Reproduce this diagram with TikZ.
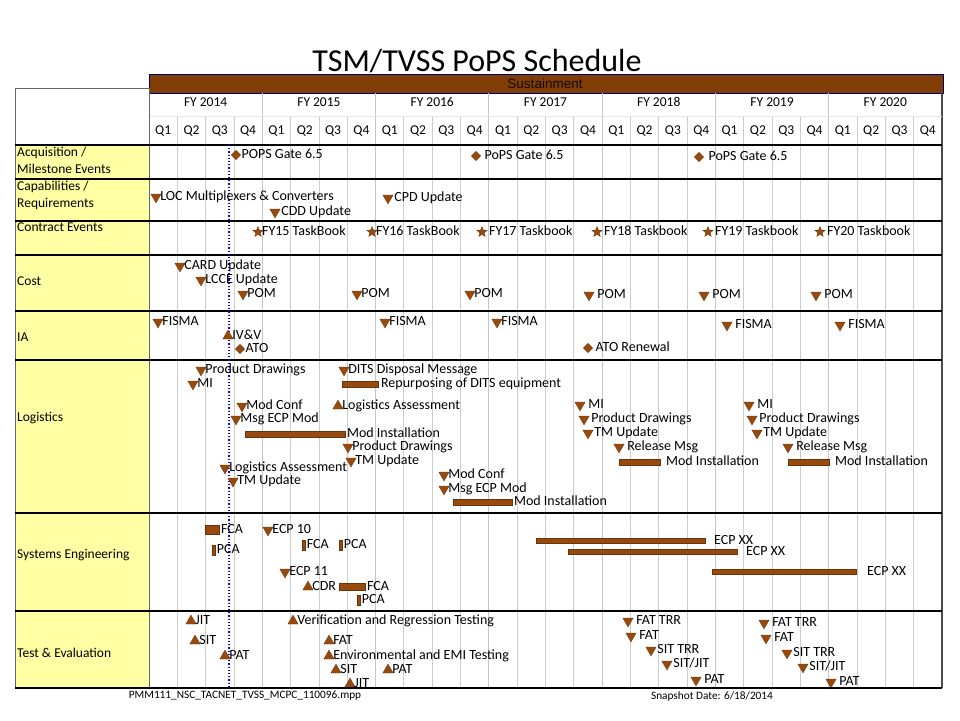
\documentclass[tikz,border=0pt]{standalone}
\usepackage{fontspec}
\setmainfont{Carlito}
\newfontfamily\arialfont{Liberation Sans}
\usetikzlibrary{shapes.geometric, positioning}

\definecolor{mkbrown}{RGB}{150,74,14}
\definecolor{barbrown}{RGB}{128,62,6}
\definecolor{rowyellow}{RGB}{255,255,163}
\definecolor{gridgray}{RGB}{205,205,205}

\begin{document}
\begin{tikzpicture}[
    x=1pt, y=-1pt,
    font=\fontsize{14}{16}\selectfont,
    lbl/.style={anchor=west, inner sep=0.5pt, text height=8.5pt, text depth=2pt},
    hdr/.style={inner sep=0pt, font=\fontsize{13.5}{15}\selectfont},
    rowlbl/.style={anchor=west, align=left, inner sep=0pt,
                   font=\fontsize{13.5}{16.5}\selectfont},
    dnmk/.style={regular polygon, regular polygon sides=3,
                 shape border rotate=180, fill=mkbrown,
                 draw=mkbrown!75!black, line width=0.3pt,
                 minimum size=12pt, inner sep=0pt},
    upmk/.style={dnmk, shape border rotate=0},
    diamk/.style={diamond, fill=mkbrown, draw=mkbrown!75!black,
                  line width=0.3pt, minimum size=9.5pt, inner sep=0pt},
    starmk/.style={star, star points=5, star point ratio=2.3, fill=mkbrown,
                   draw=mkbrown!75!black, line width=0.3pt,
                   minimum size=11pt, inner sep=0pt},
    barmk/.style={anchor=west, fill=mkbrown, draw=mkbrown!70!black,
                  line width=0.4pt, inner sep=0pt},
    tickmk/.style={fill=mkbrown, draw=mkbrown!70!black, line width=0.3pt,
                   minimum width=3pt, minimum height=10pt, inner sep=0pt},
    rowline/.style={line width=1.6pt, black},
  ]
  \useasboundingbox (0,0) rectangle (960,720);

  %% Title and sustainment bar
  \node[font=\fontsize{32}{35}\selectfont, anchor=base, inner sep=0pt,
        text depth=0pt] (title) at (477,71) {TSM/TVSS PoPS Schedule};
  \node[anchor=north west, fill=barbrown, draw=blue!45!black, line width=0.6pt,
        minimum width=794pt, minimum height=19pt, inner sep=0pt] (sust) at (149,74) {};
  \node[font=\arialfont\fontsize{13.5}{15}\selectfont, text=black!85!barbrown,
        inner sep=0pt, anchor=base] (susttxt) at (545,88) {Sustainment};

  %% Label column and table frame
  \fill[rowyellow] (15,145) rectangle (149,688);
  \draw[gray!80!black, line width=1pt] (15,688) -- (15,88) -- (149,88);
  \draw[gray!60!black, line width=1.4pt] (942,93) -- (942,688);

  %% Grid: quarters and fiscal years
  \foreach \q in {1,...,27}
    \draw[gridgray, line width=0.8pt] ({149+28.32*\q},116) -- ({149+28.32*\q},688);
  \foreach \k in {1,...,6}
    \draw[gray!45, line width=1.2pt] ({149+113.28*\k},93) -- ({149+113.28*\k},688);
  \draw[gray!20, line width=0.6pt] (149,116) -- (942,116);
  \draw[gray!80!black, line width=0.8pt] (149,88) -- (149,688);

  \foreach \yr [count=\k from 0] in {2014,2015,2016,2017,2018,2019,2020}
    \node[hdr] (fy\yr) at ({149+113.28*\k+56.64},102) {FY \yr};
  \foreach \q [evaluate=\q as \qn using {int(mod(\q,4)+1)}] in {0,...,27}
    \node[hdr] (q\q) at ({149+28.32*(\q+0.5)},131) {Q\qn};

  %% Row separators
  \draw[black, line width=1.1pt] (15,145) -- (942,145);
  \foreach \ry in {179,221,255,311,360,513,611,688}
    \draw[rowline] (15,\ry) -- (942,\ry);

  %% Row labels
  \node[rowlbl, anchor=north west] (racq) at (17,147) {Acquisition /\\Milestone Events};
  \node[rowlbl, anchor=north west] (rcap) at (17,181) {Capabilities /\\Requirements};
  \node[rowlbl, anchor=north west] (rcon) at (17,223) {Contract Events};
  \node[rowlbl] (rcost) at (17,281) {Cost};
  \node[rowlbl] (ria) at (17,337) {IA};
  \node[rowlbl] (rlog) at (17,418) {Logistics};
  \node[rowlbl] (rse) at (17,555) {Systems Engineering};
  \node[rowlbl] (rte) at (17,653) {Test \& Evaluation};

  %% Status date
  \draw[blue, dotted, line width=1.2pt] (229,145) -- (229,688);

  \begin{scope}
    \clip (149,145) rectangle (942,686);
    %% Down-pointing milestones
    \foreach \x/\y/\g/\t [count=\i] in {
        156/197/0pt/LOC Multiplexers \& Converters, 275/212/2pt/CDD Update,
        388/198/2pt/CPD Update,
        180/266/0pt/CARD Update, 201/280/0pt/LCCE Update, 243/294/0pt/POM,
        357/294/0pt/POM, 470/294/0pt/POM, 589/295/4pt/POM, 704/295/4pt/POM,
        816/295/4pt/POM,
        158/322/0pt/FISMA, 385/322/0pt/FISMA, 497/322/0pt/FISMA,
        727/325/4pt/FISMA, 840/325/4pt/FISMA,
        201/370/0pt/Product Drawings, 193/384/0pt/MI,
        344/370/0pt/DITS Disposal Message, 242/406/0pt/Mod Conf,
        236/419/0pt/Msg ECP Mod, 348/447/0pt/Product Drawings,
        351/461/0pt/TM Update, 225/468/0pt/Logistics Assessment,
        233/481/0pt/TM Update, 444/475/0pt/Mod Conf, 444/489/0pt/Msg ECP Mod,
        580/405/4pt/MI, 584/419/3pt/Product Drawings, 588/433/2pt/TM Update,
        619/447/4pt/Release Msg,
        749/405/4pt/MI, 752/419/3pt/Product Drawings, 757/433/2pt/TM Update,
        788/447/4pt/Release Msg,
        268/530/0pt/ECP 10, 285/572/0pt/ECP 11,
        628/621/4pt/FAT TRR, 631/636/4pt/FAT, 651/650/2pt/SIT TRR,
        667/664/2pt/{SIT/JIT}, 696/680/4pt/PAT,
        764/623/4pt/FAT TRR, 766/638/4pt/FAT, 787/653/2pt/SIT TRR,
        803/667/2pt/{SIT/JIT}, 831/682/4pt/PAT}
    {
      \node[dnmk] (dn\i) at (\x,\y) {};
      \node[lbl, right=\g of dn\i] (dnl\i) {\t};
    }
    %% Up-pointing milestones
    \foreach \x/\y/\g/\t [count=\i] in {
        228/336/0pt/IV\&V, 338/406/0pt/Logistics Assessment, 308/587/0pt/CDR,
        191/621/0pt/JIT, 195/641/0pt/SIT, 225/656/0pt/PAT,
        293/621/0pt/Verification and Regression Testing, 329/641/0pt/FAT,
        329/656/0pt/Environmental and EMI Testing, 336/670/0pt/SIT,
        388/670/0pt/PAT, 350/684/0pt/JIT}
    {
      \node[upmk] (up\i) at (\x,\y) {};
      \node[lbl, right=\g of up\i] (upl\i) {\t};
    }
    %% Gates and approvals
    \foreach \x/\y/\g/\t [count=\i] in {
        236/155/0pt/POPS Gate 6.5, 476/156/3pt/PoPS Gate 6.5,
        699/157/4pt/PoPS Gate 6.5, 240/349/0pt/ATO, 588/348/2pt/ATO Renewal}
    {
      \node[diamk] (dia\i) at (\x,\y) {};
      \node[lbl, right=\g of dia\i] (dial\i) {\t};
    }
    %% Task books
    \foreach \x/\y/\g/\t [count=\i] in {
        258/232/0pt/FY15 TaskBook, 372/232/0pt/FY16 TaskBook,
        482/232/3pt/FY17 Taskbook, 597/232/3pt/FY18 Taskbook,
        708/232/3pt/FY19 Taskbook, 820/232/3pt/FY20 Taskbook}
    {
      \node[starmk] (st\i) at (\x,\y) {};
      \node[lbl, right=\g of st\i] (stl\i) {\t};
    }
    %% Durations
    \foreach \xa/\w/\y/\h/\g/\t [count=\i] in {
        342/36/384/6/2pt/Repurposing of DITS equipment,
        245/100/434/6/1pt/Mod Installation,
        453/59/502/6/1pt/Mod Installation,
        619/41/462/6/5pt/Mod Installation,
        788/41/462/6/5pt/Mod Installation,
        205/14/530/9/1pt/FCA,
        339/26/587/7/1pt/FCA,
        536/169/541/5/8pt/ECP XX,
        568/169/552/5/8pt/ECP XX,
        712/144/572/5/10pt/ECP XX}
    {
      \node[barmk, minimum width=\w pt, minimum height=\h pt] (bar\i) at (\xa,\y) {};
      \node[lbl, right=\g of bar\i] (barl\i) {\t};
    }
    %% Audits
    \foreach \x/\y/\t [count=\i] in {
        214/550/PCA, 304/545/FCA, 341/545/PCA, 359/600/PCA}
    {
      \node[tickmk] (tk\i) at (\x,\y) {};
      \node[lbl, right=0.5pt of tk\i] (tkl\i) {\t};
    }
  \end{scope}

  %% Footer
  \node[font=\fontsize{11.3}{13}\selectfont, inner sep=0pt] (fname) at (245,696)
    {PMM111\_NSC\_TACNET\_TVSS\_MCPC\_110096.mpp};
  \node[font=\fontsize{11.3}{13}\selectfont, inner sep=0pt] (snap) at (712,696)
    {Snapshot Date: 6/18/2014};
\end{tikzpicture}
\end{document}
